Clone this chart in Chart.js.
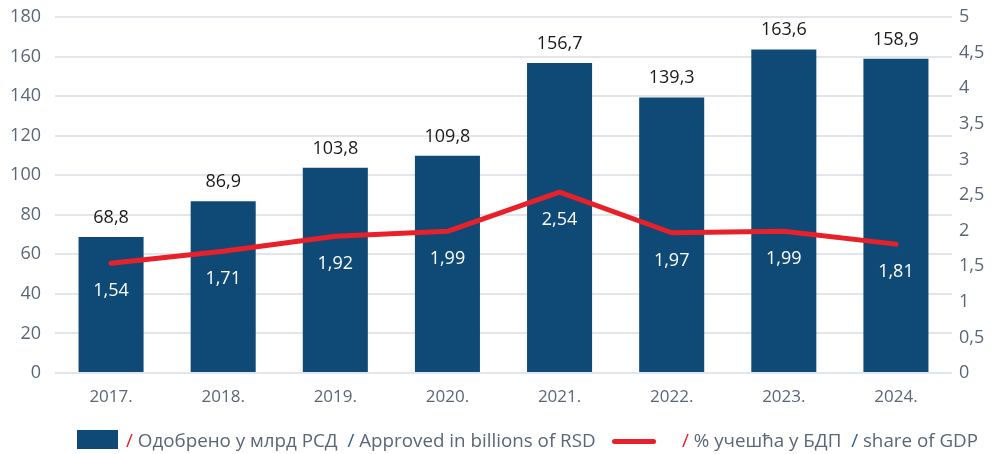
<!DOCTYPE html>
<html><head><meta charset="utf-8">
<script src="https://cdn.jsdelivr.net/npm/chart.js@4/dist/chart.umd.min.js"></script>
<style>
html,body{margin:0;padding:0;background:#fff;}
#wrap{position:relative;width:999px;height:454px;}
#c{position:absolute;left:0;top:0;}
#legend{position:absolute;left:0;top:427px;width:999px;height:26px;font-family:"Open Sans",sans-serif;font-size:18.8px;color:#5b6676;white-space:nowrap;}
#legend .t{position:absolute;top:0;line-height:26px;}
.sq{position:absolute;left:77px;top:3px;width:41px;height:19px;background:#0f4a76;}
.ln{position:absolute;left:612px;top:12px;width:44px;height:5px;background:#e8202a;border-radius:3px;}
.r{color:#e8202a;}
.b{color:#2f5f8f;}
</style></head>
<body>
<div id="wrap">
<canvas id="c" width="999" height="454"></canvas>
<div id="legend">
<div class="sq"></div>
<span class="t" style="left:126px"><span class="r">/</span> Одобрено у млрд РСД&nbsp;&nbsp;<span class="b">/</span> Approved in billions of RSD</span>
<div class="ln"></div>
<span class="t" style="left:682px"><span class="r">/</span> % учешћа у БДП&nbsp;&nbsp;<span class="b">/</span> share of GDP</span>
</div>
</div>
<script>
const categories = ['2017.','2018.','2019.','2020.','2021.','2022.','2023.','2024.'];
const approved = [68.8, 86.9, 103.8, 109.8, 156.7, 139.3, 163.6, 158.9];
const gdpShare = [1.54, 1.71, 1.92, 1.99, 2.54, 1.97, 1.99, 1.81];
const leftTicks = [0,20,40,60,80,100,120,140,160,180];
const rightTicks = [0,0.5,1,1.5,2,2.5,3,3.5,4,4.5,5];

const fmt = v => String(v).replace('.', ',');

const labelPlugin = {
  id: 'valueLabels',
  afterDatasetsDraw(chart) {
    const ctx = chart.ctx;
    ctx.save();
    ctx.textAlign = 'center';
    ctx.textBaseline = 'alphabetic';
    ctx.font = '18px "Open Sans"';
    const barMeta = chart.getDatasetMeta(1);
    ctx.fillStyle = '#1a1a1a';
    barMeta.data.forEach((el, i) => {
      ctx.fillText(fmt(approved[i]), el.x, el.y - 14);
    });
    const lineMeta = chart.getDatasetMeta(0);
    ctx.fillStyle = '#ffffff';
    lineMeta.data.forEach((el, i) => {
      ctx.fillText(fmt(gdpShare[i]), el.x, el.y + 33);
    });
    ctx.restore();
  }
};

new Chart(document.getElementById('c'), {
  data: {
    labels: categories,
    datasets: [
      { type: 'line', data: gdpShare, yAxisID: 'y2', borderColor: '#e8202a', borderWidth: 5,
        pointRadius: 0, tension: 0, borderJoinStyle: 'round', borderCapStyle: 'round', order: 0 },
      { type: 'bar', data: approved, yAxisID: 'y', backgroundColor: '#0f4a76',
        categoryPercentage: 1, barPercentage: 0.58, order: 1 }
    ]
  },
  options: {
    responsive: false, animation: false,
    layout: { padding: { top: 17, left: 0, right: 0, bottom: 0 } },
    plugins: { legend: { display: false }, tooltip: { enabled: false } },
    scales: {
      x: {
        grid: { display: false, drawTicks: false },
        border: { display: false },
        ticks: { color: '#5b6676', font: { family: 'Open Sans', size: 17 }, padding: 14 },
        afterFit(s) { s.height = 81; }
      },
      y: {
        position: 'left', min: 0, max: 180,
        afterBuildTicks(s) { s.ticks = leftTicks.map(v => ({ value: v })); },
        grid: { color: '#e2e6eb', lineWidth: 2, drawTicks: false },
        border: { display: false },
        ticks: { color: '#5b6676', font: { family: 'Open Sans', size: 18 }, padding: 14 },
        afterFit(s) { s.width = 55; s.paddingTop = 0; s.paddingBottom = 0; }
      },
      y2: {
        position: 'right', min: 0, max: 5,
        afterBuildTicks(s) { s.ticks = rightTicks.map(v => ({ value: v })); },
        grid: { display: false, drawTicks: false },
        border: { display: false },
        ticks: { color: '#5b6676', font: { family: 'Open Sans', size: 18 }, padding: 7,
          callback: v => fmt(v) },
        afterFit(s) { s.width = 47; s.paddingTop = 0; s.paddingBottom = 0; }
      }
    }
  },
  plugins: [labelPlugin]
});
</script>
</body></html>
